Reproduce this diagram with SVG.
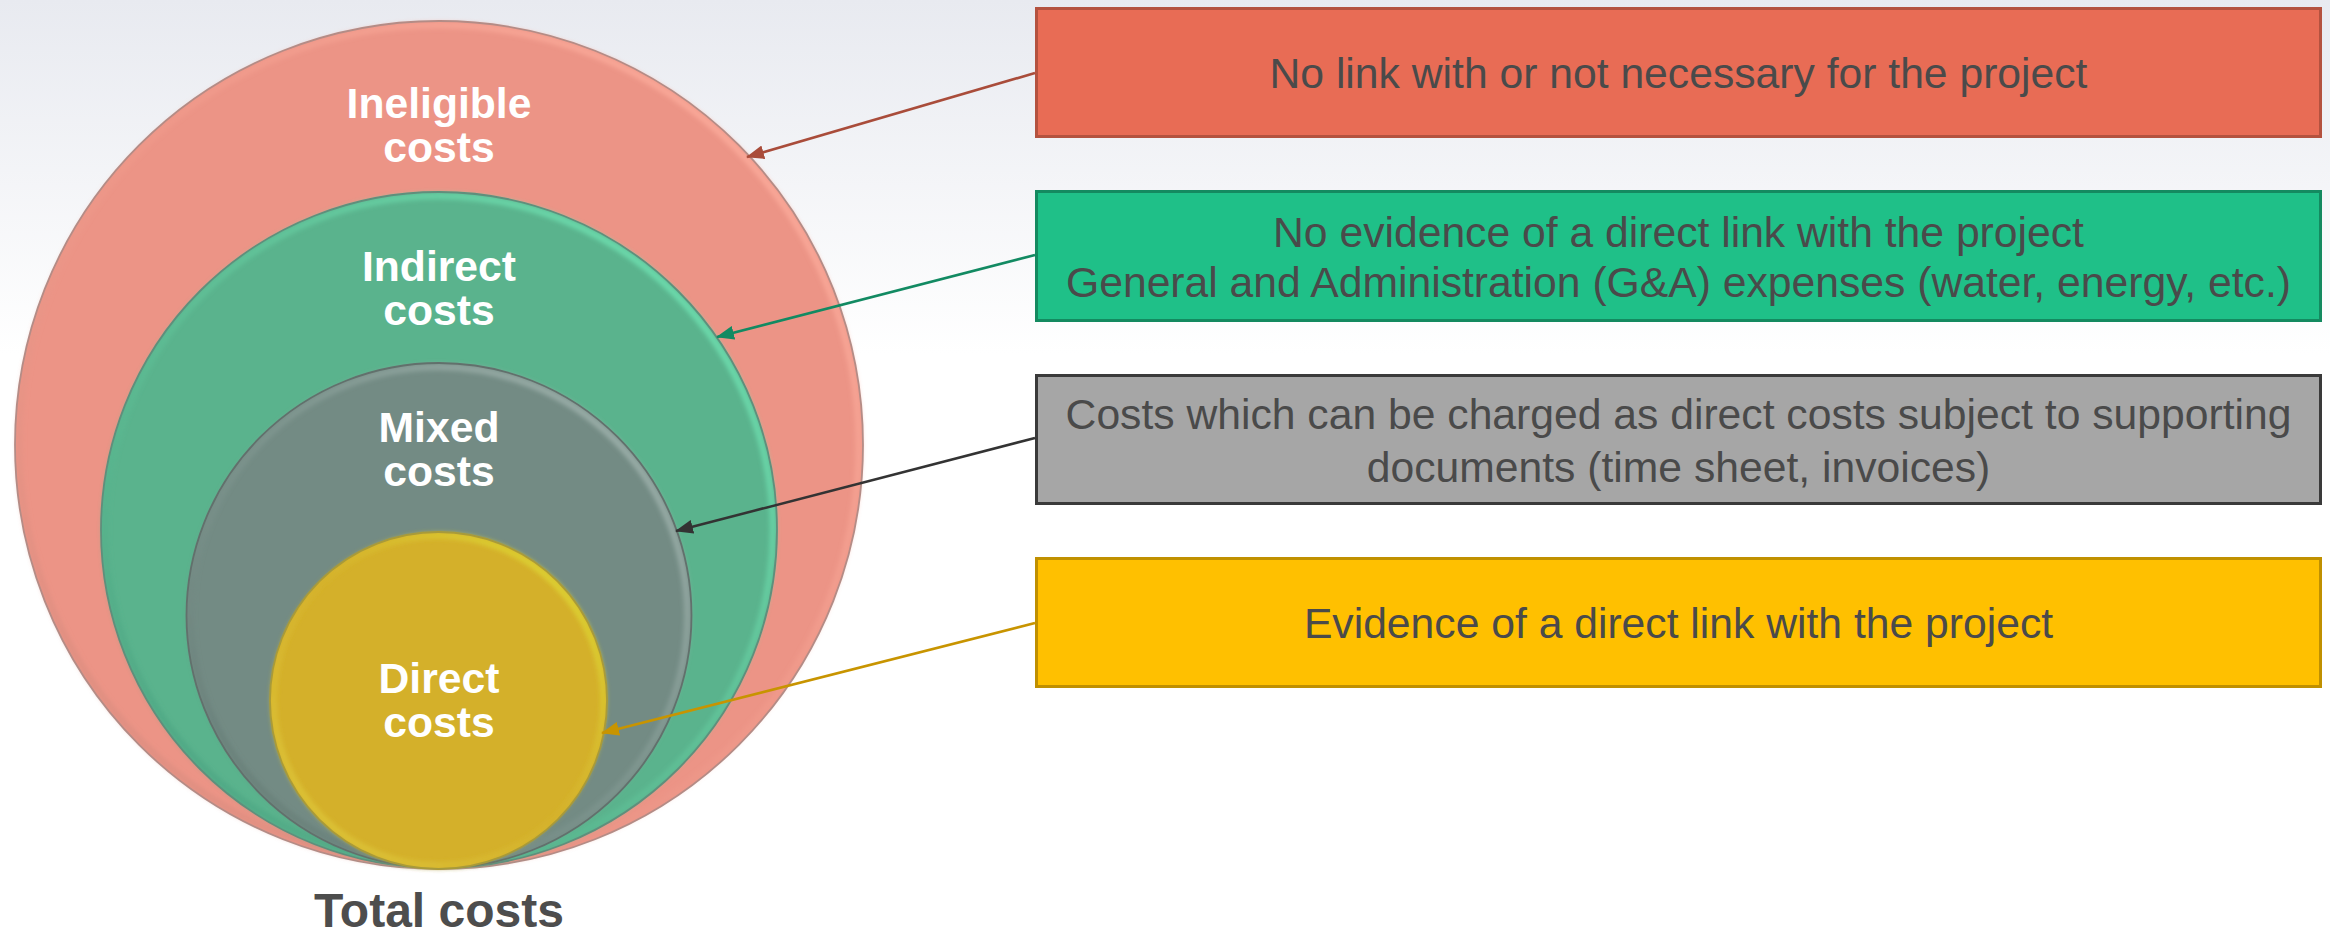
<svg xmlns="http://www.w3.org/2000/svg" width="2330" height="933" viewBox="0 0 2330 933">
<style>
.lbl{font-family:"Liberation Sans",Arial,sans-serif;font-weight:bold;font-size:42.67px;fill:#ffffff;text-anchor:middle}
.box text{font-family:"Liberation Sans",Arial,sans-serif;font-size:42.67px;fill:#4a4a4a;text-anchor:middle}
.title{font-family:"Liberation Sans",Arial,sans-serif;font-weight:bold;font-size:48px;fill:#4d4d4d;text-anchor:middle}
.conn{fill:none;stroke-width:2.6}
.rim{fill:none;stroke-width:7;filter:url(#soft)}
.edge{fill:none;stroke-width:1.8}
</style>
<defs>
<linearGradient id="bg" x1="0" y1="0" x2="0" y2="1">
<stop offset="0" stop-color="#e8eaf0"/>
<stop offset="0.38" stop-color="#ffffff"/>
<stop offset="1" stop-color="#ffffff"/>
</linearGradient>
<linearGradient id="hlPink" x1="0" y1="1" x2="1" y2="0">
<stop offset="0" stop-color="#c98276" stop-opacity="0.6"/>
<stop offset="0.5" stop-color="#f4a090" stop-opacity="0.3"/>
<stop offset="1" stop-color="#ffb0a0" stop-opacity="1"/>
</linearGradient>
<linearGradient id="hlGreen" x1="0" y1="1" x2="1" y2="0">
<stop offset="0" stop-color="#3f9072" stop-opacity="0.6"/>
<stop offset="0.5" stop-color="#66cfa2" stop-opacity="0.4"/>
<stop offset="1" stop-color="#72e6b6" stop-opacity="1"/>
</linearGradient>
<linearGradient id="hlGray" x1="0" y1="1" x2="1" y2="0">
<stop offset="0" stop-color="#566c66" stop-opacity="0.6"/>
<stop offset="0.5" stop-color="#8aa09a" stop-opacity="0.4"/>
<stop offset="1" stop-color="#a6b8b3" stop-opacity="1"/>
</linearGradient>
<linearGradient id="hlYellow" x1="0" y1="1" x2="1" y2="0">
<stop offset="0" stop-color="#e2d040" stop-opacity="0.8"/>
<stop offset="0.5" stop-color="#d8b830" stop-opacity="0.3"/>
<stop offset="1" stop-color="#dfe034" stop-opacity="1"/>
</linearGradient>
<filter id="soft" x="-5%" y="-5%" width="110%" height="110%">
<feGaussianBlur stdDeviation="2"/>
</filter>
<marker id="aRed" markerUnits="userSpaceOnUse" markerWidth="18" markerHeight="14" refX="17" refY="7" orient="auto"><path d="M0,0 L18,7 L0,14 z" fill="#a94c3a"/></marker>
<marker id="aGreen" markerUnits="userSpaceOnUse" markerWidth="18" markerHeight="14" refX="17" refY="7" orient="auto"><path d="M0,0 L18,7 L0,14 z" fill="#128a62"/></marker>
<marker id="aGray" markerUnits="userSpaceOnUse" markerWidth="18" markerHeight="14" refX="17" refY="7" orient="auto"><path d="M0,0 L18,7 L0,14 z" fill="#333333"/></marker>
<marker id="aYellow" markerUnits="userSpaceOnUse" markerWidth="18" markerHeight="14" refX="17" refY="7" orient="auto"><path d="M0,0 L18,7 L0,14 z" fill="#c89400"/></marker>
</defs>
<rect x="0" y="0" width="2330" height="933" fill="url(#bg)"/>

<g id="ineligible">
<circle cx="439" cy="445" r="424" fill="#ec9486"/>
<circle class="rim" cx="439" cy="445" r="420" stroke="url(#hlPink)"/>
<circle class="edge" cx="439" cy="445" r="424" stroke="#b48c86"/>
<text class="lbl" x="439" y="118">Ineligible</text>
<text class="lbl" x="439" y="162">costs</text>
</g>
<g id="indirect">
<circle cx="439" cy="530" r="338" fill="#5ab38d"/>
<circle class="rim" cx="439" cy="530" r="334" stroke="url(#hlGreen)"/>
<circle class="edge" cx="439" cy="530" r="338" stroke="#5f8f7c"/>
<text class="lbl" x="439" y="281">Indirect</text>
<text class="lbl" x="439" y="325">costs</text>
</g>
<g id="mixed">
<circle cx="439" cy="615.5" r="252.5" fill="#738b84"/>
<circle class="rim" cx="439" cy="615.5" r="248.5" stroke="url(#hlGray)"/>
<circle class="edge" cx="439" cy="615.5" r="252.5" stroke="#62706c"/>
<text class="lbl" x="439" y="442">Mixed</text>
<text class="lbl" x="439" y="486">costs</text>
</g>
<g id="direct">
<circle cx="438.5" cy="700.5" r="168.5" fill="#d4b02a"/>
<circle class="rim" cx="438.5" cy="700.5" r="165" stroke="url(#hlYellow)"/>
<circle class="edge" cx="438.5" cy="700.5" r="168.5" stroke="#a89a3a"/>
<text class="lbl" x="439" y="693">Direct</text>
<text class="lbl" x="439" y="737">costs</text>
</g>
<g id="total">
<text class="title" x="439" y="927">Total costs</text>
</g>

<g id="box-ineligible" class="box">
<rect x="1036.5" y="8.5" width="1284" height="128" fill="#e86c55" stroke="#b4523f" stroke-width="3"/>
<text x="1678.5" y="88">No link with or not necessary for the project</text>
</g>
<g id="box-indirect" class="box">
<rect x="1036.5" y="191.5" width="1284" height="129" fill="#1fc088" stroke="#148a60" stroke-width="3"/>
<text x="1678.5" y="247">No evidence of a direct link with the project</text>
<text x="1678.5" y="297">General and Administration (G&amp;A) expenses (water, energy, etc.)</text>
</g>
<g id="box-mixed" class="box">
<rect x="1036.5" y="375.5" width="1284" height="128" fill="#a6a6a6" stroke="#3a3a3a" stroke-width="3"/>
<text x="1678.5" y="429">Costs which can be charged as direct costs subject to supporting</text>
<text x="1678.5" y="482">documents (time sheet, invoices)</text>
</g>
<g id="box-direct" class="box">
<rect x="1036.5" y="558.5" width="1284" height="128" fill="#ffc000" stroke="#c09000" stroke-width="3"/>
<text x="1678.5" y="638">Evidence of a direct link with the project</text>
</g>

<g id="connectors">
<line class="conn" x1="1035" y1="73" x2="747" y2="157" stroke="#a94c3a" marker-end="url(#aRed)"/>
<line class="conn" x1="1035" y1="255" x2="717" y2="337" stroke="#128a62" marker-end="url(#aGreen)"/>
<line class="conn" x1="1035" y1="438" x2="676" y2="531" stroke="#333333" marker-end="url(#aGray)"/>
<line class="conn" x1="1035" y1="623" x2="602" y2="733" stroke="#c89400" marker-end="url(#aYellow)"/>
</g>
</svg>
